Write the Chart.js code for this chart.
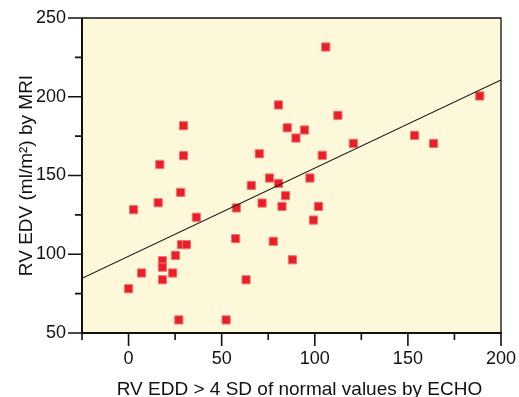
<!DOCTYPE html>
<html>
<head>
<meta charset="utf-8">
<script src="https://cdn.jsdelivr.net/npm/chart.js@4/dist/chart.umd.min.js"></script>
<style>
  html, body { margin:0; padding:0; background:#fff; }
  #wrap { width:519px; height:397px; }
</style>
</head>
<body>
<div id="wrap"><canvas id="c"></canvas></div>
<script>
/* ---------- data ---------- */
const echoEDD = [0, 2.7, 16.8, 15.9, 29.5, 29.5, 28.0, 36.4, 28.4, 31.1, 25.2, 18.2, 18.2, 7.0, 23.7,
  18.2, 27.0, 52.4, 57.9, 57.5, 63.1, 65.9, 70.2, 71.7, 75.7, 80.5, 77.7, 80.5, 82.4, 84.3,
  85.2, 88.0, 89.9, 94.5, 97.4, 99.3, 102.0, 104.0, 105.9, 112.4, 120.7, 153.6, 163.8, 188.6];
const mriEDV = [78.1, 128.3, 157.0, 132.7, 181.6, 162.6, 139.3, 123.5, 106.1, 106.1, 99.3, 95.9, 91.8, 88.1, 88.1,
  83.8, 58.3, 58.3, 129.4, 109.9, 83.8, 143.7, 163.8, 132.5, 148.4, 145.0, 108.2, 194.8, 130.4, 137.2,
  180.3, 96.5, 173.8, 178.9, 148.4, 121.7, 130.4, 162.8, 231.6, 188.2, 170.4, 175.5, 170.4, 200.5];

// fitted line
const fitIntercept = 98.7;
const fitSlope = 0.56;
const fitRange = [-25, 200];

const xTicks = [0, 50, 100, 150, 200];
const xMinor = [-25, 25, 75, 125, 175];
const yTicks = [50, 100, 150, 200, 250];
const yMinor = [75, 125, 175, 225];

const xTitle = 'RV EDD > 4 SD of normal values by ECHO';
const yTitle = 'RV EDV (ml/m\u00b2) by MRI';

const fontFamily = '"Liberation Sans", Arial, sans-serif';

/* ---------- plugin: plot background, frame, tick marks, x title ---------- */
const frame = {
  id: 'frame',
  beforeDraw(chart) {
    const {ctx, chartArea:a} = chart;
    ctx.save();
    ctx.fillStyle = '#fdf8d9';
    ctx.fillRect(a.left, a.top, a.right - a.left, a.bottom - a.top);
    ctx.restore();
  },
  afterDraw(chart) {
    const {ctx, chartArea:a, scales} = chart;
    ctx.save();
    ctx.strokeStyle = '#111';
    // top + right
    ctx.lineWidth = 1.3;
    ctx.beginPath();
    ctx.moveTo(a.left, a.top); ctx.lineTo(a.right, a.top); ctx.lineTo(a.right, a.bottom);
    ctx.stroke();
    // left + bottom axes
    ctx.lineWidth = 2;
    ctx.beginPath();
    ctx.moveTo(a.left, a.top); ctx.lineTo(a.left, a.bottom); ctx.lineTo(a.right + 1, a.bottom);
    ctx.stroke();
    // tick marks
    ctx.lineWidth = 1.6;
    ctx.beginPath();
    xTicks.forEach(v => { const p = scales.x.getPixelForValue(v); ctx.moveTo(p, a.bottom); ctx.lineTo(p, a.bottom + 13); });
    xMinor.forEach(v => { const p = scales.x.getPixelForValue(v); ctx.moveTo(p, a.bottom); ctx.lineTo(p, a.bottom + 7); });
    yTicks.forEach(v => { const p = scales.y.getPixelForValue(v); ctx.moveTo(a.left, p); ctx.lineTo(a.left - 14, p); });
    yMinor.forEach(v => { const p = scales.y.getPixelForValue(v); ctx.moveTo(a.left, p); ctx.lineTo(a.left - 7, p); });
    ctx.stroke();
    // x axis title, sits a little right of the plot centre in the original
    ctx.fillStyle = '#111';
    ctx.font = '19px ' + fontFamily;
    ctx.textAlign = 'center';
    ctx.textBaseline = 'alphabetic';
    ctx.fillText(xTitle, (a.left + a.right) / 2 + 8, 395);
    ctx.restore();
  }
};

const font = { family: fontFamily, size: 18 };

new Chart(document.getElementById('c'), {
  type: 'scatter',
  data: {
    datasets: [
      {
        type: 'line',
        label: 'fit',
        data: fitRange.map(x => ({ x: x, y: fitIntercept + fitSlope * x })),
        borderColor: '#111', borderWidth: 1.1,
        pointRadius: 0, fill: false, order: 0
      },
      {
        label: 'patients',
        data: echoEDD.map((x, i) => ({ x: x, y: mriEDV[i] })),
        pointStyle: 'rect', pointRadius: 5.8,
        backgroundColor: '#e91f28', borderColor: '#f07474', borderWidth: 1,
        order: 1
      }
    ]
  },
  options: {
    responsive: true, maintainAspectRatio: false, animation: false,
    layout: { padding: { left: 0, top: 18, right: 18, bottom: 0 } },
    plugins: { legend: { display: false }, tooltip: { enabled: false } },
    scales: {
      x: {
        type: 'linear', min: -25, max: 200,
        afterFit(s) { s.height = 64; },
        afterBuildTicks(s) { s.ticks = xTicks.map(v => ({ value: v })); },
        grid: { display: false, drawTicks: true, tickLength: 13 },
        border: { display: false },
        ticks: { color: '#111', font: font, padding: 2, maxRotation: 0 },
        title: { display: false }
      },
      y: {
        type: 'linear', min: 50, max: 250,
        afterFit(s) { s.width = 82; },
        afterBuildTicks(s) { s.ticks = yTicks.map(v => ({ value: v })); },
        grid: { display: false, drawTicks: true, tickLength: 14 },
        border: { display: false },
        ticks: { color: '#111', font: font, padding: 2 },
        title: { display: true, text: yTitle, color: '#111',
                 font: { family: fontFamily, size: 19, lineHeight: 1 }, padding: { top: 17, bottom: 0 } }
      }
    }
  },
  plugins: [frame]
});
</script>
</body>
</html>
